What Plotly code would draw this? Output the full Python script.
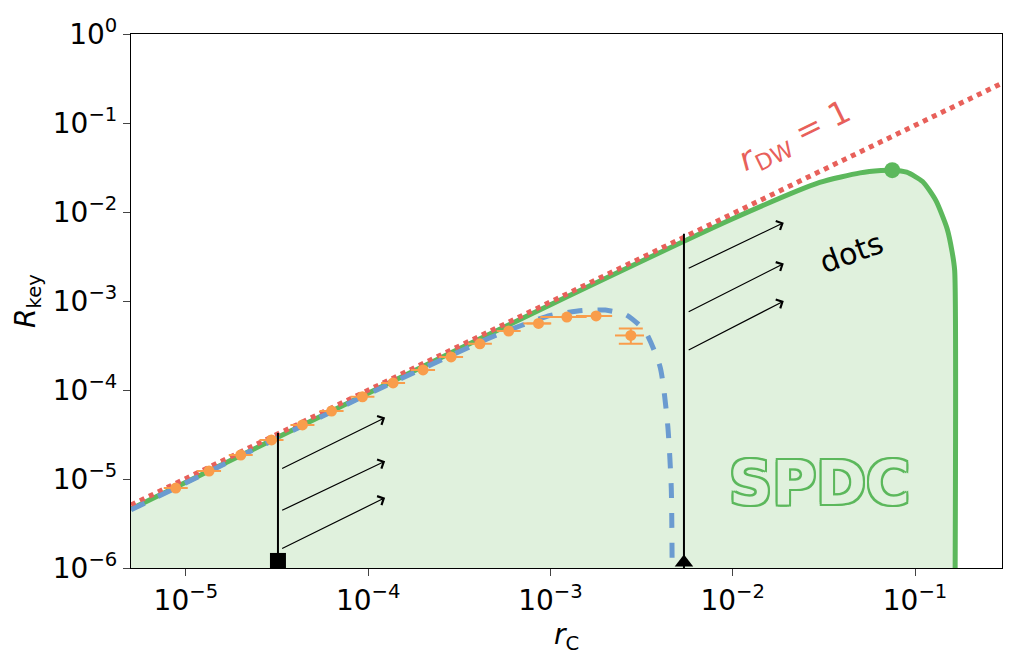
import numpy as np
import plotly.graph_objects as go

# green SPDC bound
spdc_r = [5e-6, 1e-5, 1e-4, 1e-3, 1e-2, 0.03, 0.05, 0.065, 0.075, 0.09, 0.11, 0.13, 0.15, 0.16, 0.165, 0.166]
spdc_R = [4.6e-6, 9.2e-6, 9.2e-5, 9.1e-4, 8.4e-3, 0.0215, 0.0275, 0.0292, 0.0295, 0.028, 0.022, 0.0135, 0.0065, 0.0035, 0.0022, 1e-6]
peak_r, peak_R = [0.075], [0.0295]

# blue dashed curve
dots_r = [5e-6, 1e-4, 5e-4, 1e-3, 1.5e-3, 2e-3, 2.6e-3, 3.3e-3, 4e-3, 4.4e-3, 4.6e-3, 4.65e-3]
dots_R = [4.5e-6, 9e-5, 4.1e-4, 6.9e-4, 7.8e-4, 7.9e-4, 7.0e-4, 4.6e-4, 1.8e-4, 4e-5, 8e-6, 1.1e-6]

# red dotted r_DW = 1
dw_r = [5e-6, 0.3]
dw_R = [5.1e-6, 0.28]

# orange simulated points
sim_r = [8.8e-6, 1.34e-5, 2.0e-5, 2.95e-5, 4.36e-5, 6.3e-5, 9.3e-5, 1.37e-4, 2.0e-4,
         2.85e-4, 4.1e-4, 5.9e-4, 8.6e-4, 1.23e-3, 1.78e-3, 2.76e-3]
sim_R = [7.9e-6, 1.23e-5, 1.86e-5, 2.75e-5, 4.05e-5, 5.8e-5, 8.4e-5, 1.2e-4, 1.68e-4,
         2.35e-4, 3.3e-4, 4.6e-4, 5.6e-4, 6.6e-4, 6.8e-4, 4.1e-4]
sim_r_err = [0, 0, 0, 0, 0, 0, 0, 0, 0, 0, 0, 0, 1.5e-4, 3.5e-4, 4e-4, 5e-4]
sim_R_err_hi = [0] * 15 + [0.8e-4]
sim_R_err_lo = [0] * 15 + [0.8e-4]

# vertical markers
vline_r = [3.2e-5, 5.4e-3]
vline_top = [3.3e-5, 5.7e-3]

# arrows (log10 coords): x0, y0, x1, y1
arrows = [(-4.48, -5.79, -3.907, -5.21), (-4.48, -5.36, -3.907, -4.80), (-4.48, -4.89, -3.907, -4.31),
          (-2.25, -3.56, -1.72, -3.0), (-2.25, -3.13, -1.72, -2.58), (-2.25, -2.64, -1.72, -2.12)]

GREEN = "#5cb85c"
RED = "#e8605a"
BLUE = "#6b9bd0"
ORANGE = "#f99d4b"
FILL = "#e0f1dd"

fig = go.Figure()

fig.add_trace(go.Scatter(x=spdc_r + [spdc_r[-1], spdc_r[0]], y=spdc_R + [1e-6, 1e-6], fill="toself",
                         fillcolor=FILL, line=dict(width=0), mode="lines", hoverinfo="skip"))
fig.add_trace(go.Scatter(x=spdc_r, y=spdc_R, mode="lines", line=dict(color=GREEN, width=5, shape="spline", smoothing=0.6)))
fig.add_trace(go.Scatter(x=dw_r, y=dw_R, mode="lines", line=dict(color=RED, width=5, dash="dot")))
fig.add_trace(go.Scatter(x=dots_r, y=dots_R, mode="lines", line=dict(color=BLUE, width=5, dash="dash", shape="spline", smoothing=0.6)))
fig.add_trace(go.Scatter(x=peak_r, y=peak_R, mode="markers", marker=dict(color=GREEN, size=16)))
fig.add_trace(go.Scatter(x=sim_r, y=sim_R, mode="markers", marker=dict(color=ORANGE, size=11),
                         error_x=dict(type="data", array=sim_r_err, color=ORANGE, thickness=2, width=0),
                         error_y=dict(type="data", array=sim_R_err_hi, arrayminus=sim_R_err_lo,
                                      color=ORANGE, thickness=2, width=12)))
for r, top in zip(vline_r, vline_top):
    fig.add_trace(go.Scatter(x=[r, r], y=[1e-6, top], mode="lines", line=dict(color="black", width=2)))
fig.add_trace(go.Scatter(x=[vline_r[0]], y=[1.2e-6], mode="markers",
                         marker=dict(symbol="square", color="black", size=16)))
fig.add_trace(go.Scatter(x=[vline_r[1]], y=[1.15e-6], mode="markers",
                         marker=dict(symbol="triangle-up", color="black", size=16)))

for x0, y0, x1, y1 in arrows:
    fig.add_annotation(x=x1, y=y1, ax=x0, ay=y0, xref="x", yref="y", axref="x", ayref="y",
                       showarrow=True, arrowhead=4, arrowsize=1.6, arrowwidth=1.2, arrowcolor="black", text="")

fig.add_annotation(x=np.log10(0.022), y=np.log10(0.07), text="<i>r</i><sub>DW</sub> = 1", showarrow=False,
                   textangle=-26, font=dict(size=32, color=RED, family="DejaVu Sans"))
fig.add_annotation(x=np.log10(0.045), y=np.log10(0.0035), text="dots", showarrow=False,
                   textangle=-20, font=dict(size=30, color="black", family="DejaVu Sans"))
shadow = ", ".join(f"{dx}px {dy}px 0 {GREEN}" for dx, dy in
                   [(-2, -2), (2, -2), (-2, 2), (2, 2), (0, 2), (0, -2), (2, 0), (-2, 0)])
fig.add_annotation(x=np.log10(0.03), y=np.log10(9e-6), text="SPDC", showarrow=False,
                   font=dict(size=60, color=FILL, family="DejaVu Sans", weight=600, shadow=shadow))

tick_font = dict(size=28, color="black", family="DejaVu Sans")
fig.update_xaxes(type="log", range=[np.log10(5e-6), np.log10(0.3)],
                 tickvals=[1e-5, 1e-4, 1e-3, 1e-2, 1e-1],
                 ticktext=["10<sup>−5</sup>", "10<sup>−4</sup>", "10<sup>−3</sup>", "10<sup>−2</sup>", "10<sup>−1</sup>"],
                 tickfont=tick_font, ticks="outside", ticklen=7, tickwidth=1.2, showgrid=False,
                 showline=True, linecolor="black", linewidth=1.2, mirror=True, zeroline=False,
                 automargin=False,
                 title=dict(text="<i>r</i><sub>C</sub>", font=dict(size=28, color="black", family="DejaVu Sans"), standoff=8))
fig.update_yaxes(type="log", range=[-6, 0],
                 tickvals=[1e-6, 1e-5, 1e-4, 1e-3, 1e-2, 1e-1, 1],
                 ticktext=["10<sup>−6</sup>", "10<sup>−5</sup>", "10<sup>−4</sup>", "10<sup>−3</sup>",
                           "10<sup>−2</sup>", "10<sup>−1</sup>", "10<sup>0</sup>"],
                 tickfont=tick_font, ticks="outside", ticklen=7, tickwidth=1.2, showgrid=False,
                 showline=True, linecolor="black", linewidth=1.2, mirror=True, zeroline=False,
                 automargin=False,
                 title=dict(text="<i>R</i><sub>key</sub>", font=dict(size=28, color="black", family="DejaVu Sans"), standoff=8))

fig.update_layout(width=1035, height=660, showlegend=False, plot_bgcolor="white", paper_bgcolor="white",
                  margin=dict(l=123, r=41, t=26, b=100))

fig.write_html("out.html")
